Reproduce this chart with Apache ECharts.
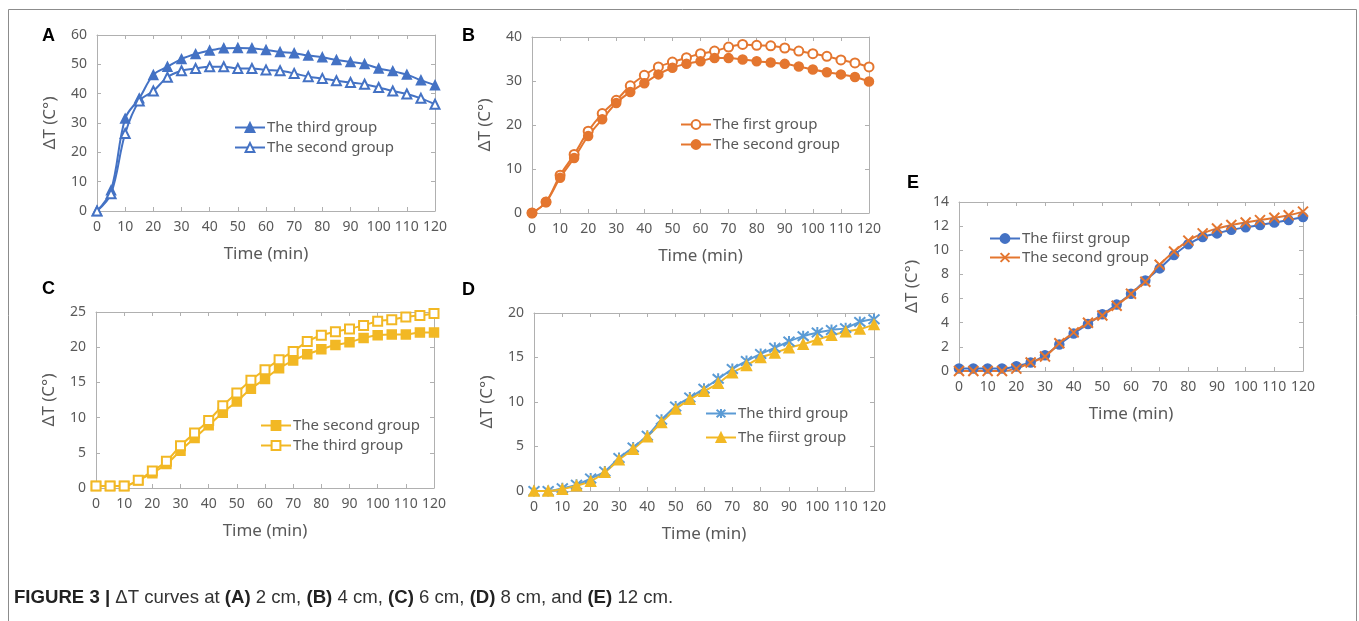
<!DOCTYPE html>
<html>
<head>
<meta charset="utf-8">
<script src="https://cdn.jsdelivr.net/npm/echarts@6/dist/echarts.min.js"></script>
<style>
html, body { margin: 0; padding: 0; background: #fff; }
#chart { width: 1359px; height: 621px; }
</style>
</head>
<body>
<div id="chart"></div>
<script>
// sampling times (min)
const time = [0, 5, 10, 15, 20, 25, 30, 35, 40, 45, 50, 55, 60, 65, 70, 75, 80, 85, 90, 95, 100, 105, 110, 115, 120];

// (A) 2 cm
const aThird = [0, 7.1, 31.5, 38.4, 46.4, 49.2, 51.8, 53.5, 54.7, 55.5, 55.6, 55.5, 54.9, 54.2, 53.8, 53.0, 52.4, 51.5, 50.8, 50.1, 48.6, 47.7, 46.5, 44.6, 42.9];
const aSecond = [0, 5.9, 26.4, 37.5, 40.9, 45.6, 47.8, 48.6, 49.2, 49.2, 48.6, 48.6, 48.1, 47.8, 46.9, 45.8, 45.2, 44.4, 43.8, 43.2, 42.1, 40.9, 39.9, 38.4, 36.4];
// (B) 4 cm
const bFirst = [0, 2.5, 8.6, 13.3, 18.6, 22.6, 25.6, 28.9, 31.3, 33.2, 34.3, 35.3, 36.2, 36.8, 37.7, 38.3, 38.1, 38.0, 37.5, 36.8, 36.2, 35.6, 34.8, 34.1, 33.2];
const bSecond = [0, 2.5, 8.0, 12.5, 17.5, 21.3, 25.0, 27.5, 29.5, 31.5, 33.0, 33.9, 34.5, 35.2, 35.2, 34.9, 34.5, 34.2, 33.9, 33.3, 32.6, 32.0, 31.5, 30.9, 29.9];
// (C) 6 cm
const cSecond = [0.3, 0.3, 0.3, 1.1, 2.1, 3.4, 5.3, 7.1, 8.9, 10.7, 12.3, 14.1, 15.5, 17.0, 18.1, 19.0, 19.7, 20.3, 20.7, 21.3, 21.7, 21.8, 21.8, 22.1, 22.1];
const cThird = [0.3, 0.3, 0.3, 1.1, 2.4, 3.8, 6.0, 7.8, 9.6, 11.7, 13.5, 15.3, 16.8, 18.2, 19.4, 20.8, 21.7, 22.2, 22.6, 23.1, 23.7, 23.9, 24.3, 24.5, 24.8];
// (D) 8 cm
const dThird = [0, 0, 0.3, 0.7, 1.4, 2.2, 3.7, 4.9, 6.2, 8.0, 9.5, 10.5, 11.5, 12.6, 13.7, 14.6, 15.4, 16.1, 16.8, 17.4, 17.8, 18.1, 18.3, 19.0, 19.3];
const dFirst = [0, 0, 0.2, 0.6, 1.1, 2.1, 3.5, 4.7, 6.1, 7.7, 9.2, 10.3, 11.2, 12.1, 13.3, 14.1, 15.0, 15.5, 16.1, 16.5, 17.0, 17.5, 17.9, 18.2, 18.7];
// (E) 12 cm
const eFirst = [0.2, 0.2, 0.2, 0.2, 0.4, 0.7, 1.3, 2.2, 3.1, 3.9, 4.7, 5.5, 6.4, 7.5, 8.5, 9.6, 10.5, 11.1, 11.4, 11.7, 11.9, 12.1, 12.3, 12.5, 12.75];
const eSecond = [0, 0, 0, 0, 0.2, 0.7, 1.2, 2.3, 3.2, 4.0, 4.6, 5.4, 6.4, 7.4, 8.8, 9.9, 10.8, 11.4, 11.8, 12.1, 12.3, 12.5, 12.7, 12.9, 13.2];

// y axis ranges per panel
const yMax = [60, 40, 25, 20, 14];
const yStep = [10, 10, 5, 5, 2];

const caption = '{b|FIGURE 3 |} ΔT curves at {b|(A)} 2 cm, {b|(B)} 4 cm, {b|(C)} 6 cm, {b|(D)} 8 cm, and {b|(E)} 12 cm.';

const FONT = '"Noto Sans", "DejaVu Sans", sans-serif';
const TXT = '#595959';
const FRAME = '#b0b0b0';
const BLUE = '#4472C4';
const LBLUE = '#5B9BD5';
const ORANGE = '#E4762F';
const GOLD = '#F2B824';
const STAR = 'emptypath://M5 0 L5 10 M0.7 0.7 L9.3 9.3 M9.3 0.7 L0.7 9.3';
const CROSS = 'emptypath://M0 0 L10 10 M10 0 L0 10';

const panels = [
  { label: 'A', grid: { left: 97, top: 35, width: 338, height: 176 }, legend: { left: 229, top: 115, itemGap: 5 },
    series: [
      { name: 'The third group', data: aThird, color: BLUE, symbol: 'triangle', size: 9 },
      { name: 'The second group', data: aSecond, color: BLUE, symbol: 'emptyTriangle', size: 9 }
    ] },
  { label: 'B', grid: { left: 532, top: 37, width: 337, height: 176 }, legend: { left: 675, top: 112, itemGap: 5 },
    series: [
      { name: 'The first group', data: bFirst, color: ORANGE, symbol: 'emptyCircle', size: 9 },
      { name: 'The second group', data: bSecond, color: ORANGE, symbol: 'circle', size: 9 }
    ] },
  { label: 'C', grid: { left: 96, top: 312, width: 338, height: 176 }, legend: { left: 255, top: 413, itemGap: 5 },
    series: [
      { name: 'The second group', data: cSecond, color: GOLD, symbol: 'rect', size: 9 },
      { name: 'The third group', data: cThird, color: GOLD, symbol: 'emptyRect', size: 9 }
    ] },
  { label: 'D', grid: { left: 534, top: 313, width: 340, height: 178 }, legend: { left: 700, top: 401, itemGap: 9 },
    series: [
      { name: 'The third group', data: dThird, color: LBLUE, symbol: STAR, size: 11 },
      { name: 'The fiirst group', data: dFirst, color: GOLD, symbol: 'triangle', size: 10 }
    ] },
  { label: 'E', grid: { left: 959, top: 202, width: 344, height: 169 }, legend: { left: 984, top: 226, itemGap: 4 },
    series: [
      { name: 'The fiirst group', data: eFirst, color: BLUE, symbol: 'circle', size: 9 },
      { name: 'The second group', data: eSecond, color: ORANGE, symbol: CROSS, size: 10 }
    ] }
];

const labelPos = [[42, 27], [462, 27], [42, 280], [462, 281], [907, 174]];

const option = {
  backgroundColor: '#fff',
  animation: false,
  grid: [], xAxis: [], yAxis: [], series: [], legend: [],
  graphic: []
};

panels.forEach((p, i) => {
  option.grid.push(Object.assign({ show: false, outerBoundsMode: 'none' }, p.grid));
  const line = { show: true, onZero: false, lineStyle: { color: FRAME, width: 1 } };
  const tick = { show: true, inside: true, length: 4, lineStyle: { color: FRAME } };
  const xBase = { type: 'value', gridIndex: i, min: 0, max: 120, interval: 10, axisLine: line, axisTick: tick, splitLine: { show: false } };
  option.xAxis.push(Object.assign({}, xBase, {
    position: 'bottom', name: 'Time (min)', nameLocation: 'middle', nameGap: 35,
    nameTextStyle: { color: TXT, fontSize: 17, fontFamily: FONT },
    axisLabel: { color: TXT, fontSize: 14, fontFamily: FONT, margin: 9 }
  }));
  option.xAxis.push(Object.assign({}, xBase, { position: 'top', axisLabel: { show: false } }));
  const yBase = { type: 'value', gridIndex: i, min: 0, max: yMax[i], interval: yStep[i], axisLine: line, axisTick: tick, splitLine: { show: false } };
  option.yAxis.push(Object.assign({}, yBase, {
    position: 'left', name: 'ΔT (C°)', nameLocation: 'middle', nameGap: 38,
    nameTextStyle: { color: TXT, fontSize: 17, fontFamily: FONT },
    axisLabel: { color: TXT, fontSize: 14, fontFamily: FONT, margin: 10 }
  }));
  option.yAxis.push(Object.assign({}, yBase, { position: 'right', axisLabel: { show: false } }));

  const names = [];
  p.series.forEach(s => {
    const key = p.label + '|' + s.name;
    names.push(key);
    option.series.push({
      type: 'line', name: key,
      xAxisIndex: i * 2, yAxisIndex: i * 2,
      data: time.map((t, k) => [t, s.data[k]]),
      smooth: 0.35,
      symbol: s.symbol, symbolSize: s.size,
      lineStyle: { color: s.color, width: 2 },
      itemStyle: { color: s.color, borderColor: s.color, borderWidth: 1.5 }
    });
  });
  option.legend.push({
    orient: 'vertical', left: p.legend.left, top: p.legend.top,
    itemWidth: 30, itemHeight: 11, itemGap: p.legend.itemGap,
    data: names, selectedMode: false,
    formatter: n => n.split('|')[1],
    textStyle: { color: TXT, fontSize: 15, fontFamily: FONT, padding: [0, 0, 0, -3] }
  });
  option.graphic.push({
    type: 'text', left: labelPos[i][0], top: labelPos[i][1],
    style: { text: p.label, fill: '#000', font: 'bold 18px "Liberation Sans", Arial, sans-serif' }
  });
});

option.graphic.push({
  type: 'rect', left: 6, top: 7, silent: true,
  shape: { width: 1348, height: 630 },
  style: { fill: 'none', stroke: '#8c8c8c', lineWidth: 1 }
});
option.graphic.push({
  type: 'text', left: 14, top: 588,
  style: {
    text: caption, fill: '#333', font: '18.6px "Liberation Sans", Arial, sans-serif',
    rich: { b: { fontWeight: 'bold', fontSize: 18.6, fontFamily: '"Liberation Sans", Arial, sans-serif', fill: '#222' } }
  }
});

const chart = echarts.init(document.getElementById('chart'));
chart.setOption(option);
window.addEventListener('resize', () => chart.resize());
</script>
</body>
</html>
